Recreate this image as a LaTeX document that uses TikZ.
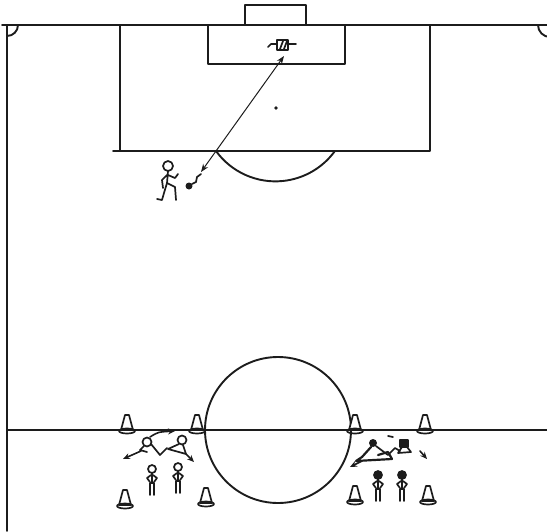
\documentclass[tikz,border=0pt]{standalone}
\usetikzlibrary{arrows.meta, calc}
\definecolor{cink}{HTML}{1C1C1C}
\tikzset{
  every picture/.style={line cap=round, line join=round},
  pitchline/.style={draw=cink, line width=0.95pt},
  sketch/.style={draw=cink, line width=0.85pt},
  pass/.style={{Stealth[length=4pt,width=3pt]}-{Stealth[length=4pt,width=3pt]}, draw=cink, line width=0.5pt},
  run/.style={-{Stealth[length=3.5pt,width=3pt]}, draw=cink, line width=0.8pt},
  % training cone, origin at the middle of its base
  cone/.pic={
    \draw[sketch, fill=white] (-2,-16) -- (-6,-1) -- (6,-1) -- (2,-16) -- cycle;
    \draw[sketch] (0,0) ellipse [x radius=8, y radius=2.5];
  },
  % standing player, origin between the feet, head fill as argument
  player/.pic={
    \draw[sketch, fill=#1] (0,-26) circle [radius=4];
    \draw[sketch] (0,-22) -- (0,-12);
    \draw[sketch] (-1,-20) -- (-5,-17) -- (-2,-13) (1,-20) -- (5,-17) -- (2,-13);
    \draw[sketch] (-2,-12) -- (2,-12) (-2,-12) -- (-2,0) (2,-12) -- (2,0);
  },
}

\begin{document}
\begin{tikzpicture}[x=0.5pt, y=-0.5pt]
  \useasboundingbox (0,0) rectangle (547,531);
  \clip (0,0) rectangle (547,531);

  % pitch markings
  \draw[pitchline] (2,25) -- (547,25);
  \draw[pitchline] (7,25) -- (7,531);
  \draw[pitchline] (7,430) -- (547,430);
  \draw[pitchline] (7,36) arc[start angle=90, end angle=0, radius=11];
  \draw[pitchline] (538,25) arc[start angle=180, end angle=90, radius=12];
  \draw[pitchline] (245,25) -- (245,5) -- (306,5) -- (306,25);
  \draw[pitchline] (208,25) -- (208,64) -- (345,64) -- (345,25);
  \draw[pitchline] (120,25) -- (120,151) (113,151) -- (430,151) -- (430,25);
  \fill[cink] (276,108) circle [radius=1.8];
  \draw[pitchline] (216,151) arc[start angle=144.1, end angle=35.9, radius=73.4];
  \draw[pitchline] (278,430) circle [radius=73];

  % goalkeeper
  \draw[sketch, fill=white] (277,40) rectangle (288,50);
  \draw[sketch] (280,49) -- (283,41) (284,49) -- (287,41);
  \draw[sketch] (268,47) -- (271,44) -- (277,44) (288,44) -- (296,44);

  % striker with ball and the shot
  \coordinate (keeper) at (284,56);
  \coordinate (strike) at (201,172);
  \draw[pass] (strike) -- (keeper);
  \draw[sketch] (168,166) circle [radius=5];
  \draw[sketch] (168,171) -- (167,183) (167,175) -- (162,180) -- (163,188)
    (168,175) -- (175,178) -- (178,174);
  \draw[sketch] (167,183) -- (164,193) -- (162,200) -- (157,199)
    (167,183) -- (175,187) -- (176,200);
  \fill[cink] (189,186) circle [radius=3.5];
  \draw[sketch] (192,184) -- (196,182) -- (197,177) -- (201,174);

  % cones on the halfway line and behind it
  \foreach \cx in {127,197,355,425}
    \pic at (\cx,431) {cone};
  \foreach \cx/\cy in {125/506,206/504,355/502,428/502}
    \pic at (\cx,\cy) {cone};

  % left pair on the ground
  \draw[sketch] (147,442) circle [radius=4.5];
  \draw[sketch] (144,446) -- (140,450) -- (147,452) (151,444) -- (160,455) -- (167,448);
  \draw[run] (141,451) -- (123,459);
  \draw[run] (150,437) .. controls (158,432) .. (175,431);
  \draw[sketch] (182,440) circle [radius=4.5];
  \draw[sketch] (179,444) -- (168,449) -- (186,454) -- (183,445);
  \draw[run] (186,454) -- (194,462);

  % right pair on the ground
  \fill[cink] (373,443) circle [radius=4];
  \draw[sketch, line width=1.1pt] (371,447) -- (362,457) -- (356,461) -- (392,459) -- (388,452) -- (378,455);
  \draw[run] (362,461) -- (350,467);
  \draw[sketch] (376,446) -- (388,455) -- (395,448) -- (400,451);
  \filldraw[sketch, fill=cink] (400,440) rectangle (408,447);
  \draw[sketch] (402,447) -- (398,453) -- (411,452) -- (407,447);
  \draw[sketch] (388,436) -- (393,437);
  \draw[run] (420,451) -- (427,459);

  % waiting players
  \pic at (152,495) {player=white};
  \pic at (178,493) {player=white};
  \pic at (378,501) {player=cink};
  \pic at (402,501) {player=cink};
\end{tikzpicture}
\end{document}
